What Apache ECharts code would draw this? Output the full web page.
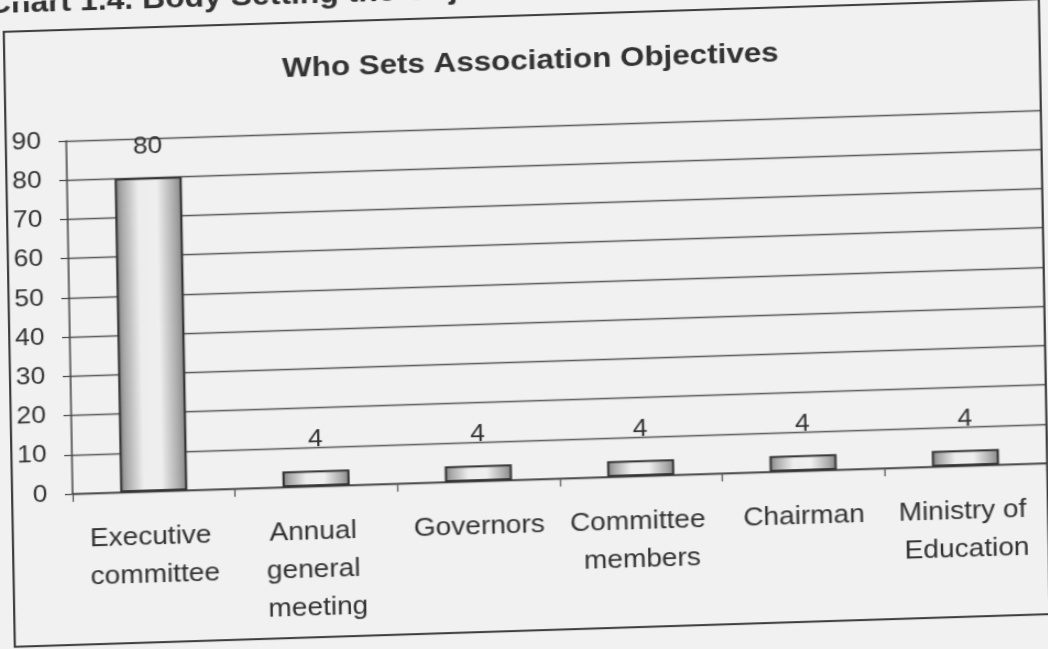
<!DOCTYPE html>
<html>
<head>
<meta charset="utf-8">
<title>Who Sets Association Objectives</title>
<script src="https://cdn.jsdelivr.net/npm/echarts@6/dist/echarts.min.js"></script>
<style>
  html, body { margin: 0; padding: 0; background: #f1f1f1; overflow: hidden; width: 1048px; height: 649px; }
  /* The printed page sits slightly tilted and stretched, so the whole chart is drawn on a sheared layer */
  #chart {
    position: absolute; left: 0; top: 0;
    width: 960px; height: 700px;
    transform-origin: 0 0;
    transform: matrix(1.1, -0.0347, 0.018, 1, -8.91, 2.17);
  }
</style>
</head>
<body>
<div id="chart"></div>
<script>
// Chart data
const pageHeading = 'Chart 1.4. Body Setting the Objectives';
const chartTitle = 'Who Sets Association Objectives';
const categories = [
  'Executive committee',
  'Annual general meeting',
  'Governors',
  'Committee members',
  'Chairman',
  'Ministry of Education'
];
const percentages = [80, 4, 4, 4, 4, 4];
const yMin = 0;
const yMax = 90;
const yStep = 10;

const FONT = '"Liberation Sans", Arial, sans-serif';
const INK = '#323232';

const chart = echarts.init(document.getElementById('chart'), null, { renderer: 'canvas' });

// bar fill: shaded edges, pale centre
const barFill = new echarts.graphic.LinearGradient(0, 0, 1, 0, [
  { offset: 0, color: '#7e7e7e' },
  { offset: 0.1, color: '#a9a9a9' },
  { offset: 0.35, color: '#ededed' },
  { offset: 0.62, color: '#efefef' },
  { offset: 0.88, color: '#ababab' },
  { offset: 1, color: '#858585' }
]);

chart.setOption({
  backgroundColor: '#f1f1f1',
  animation: false,
  title: [{
    text: chartTitle,
    left: 484,
    top: 57,
    textAlign: 'center',
    textStyle: { fontFamily: FONT, fontSize: 28.5, fontWeight: 'bold', color: INK }
  }],
  graphic: [
    {
      type: 'text',
      x: -3,
      y: 17,
      style: {
        text: pageHeading,
        font: 'bold 29px ' + FONT,
        fill: INK,
        textAlign: 'left',
        textVerticalAlign: 'bottom'
      }
    },
    {
      type: 'rect',
      shape: { x: 11, y: 30, width: 941, height: 615 },
      style: { fill: 'none', stroke: '#3a3a3a', lineWidth: 2 },
      z: 10
    }
  ],
  grid: {
    left: 66,
    right: 960 - 951.6,
    top: 141,
    bottom: 700 - 494,
    containLabel: false
  },
  xAxis: {
    type: 'category',
    data: categories,
    boundaryGap: true,
    axisLine: { lineStyle: { color: '#444', width: 1.5 } },
    axisTick: { show: true, length: 8, inside: false, lineStyle: { color: '#555', width: 1.2 } },
    axisLabel: {
      interval: 0,
      margin: 27,
      color: INK,
      fontFamily: FONT,
      fontSize: 25.5,
      lineHeight: 38,
      width: 140,
      overflow: 'break',
      align: 'center'
    },
    splitLine: { show: false }
  },
  yAxis: {
    type: 'value',
    min: yMin,
    max: yMax,
    interval: yStep,
    axisLine: { show: true, lineStyle: { color: '#444', width: 1.5 } },
    axisTick: { show: true, length: 7, inside: false, lineStyle: { color: '#444', width: 1.2 } },
    axisLabel: {
      margin: 23,
      color: INK,
      fontFamily: FONT,
      fontSize: 24
    },
    splitLine: { show: true, lineStyle: { color: '#555', width: 1.3 } }
  },
  series: [{
    type: 'bar',
    data: percentages,
    barWidth: 61,
    itemStyle: {
      color: barFill,
      borderColor: '#333',
      borderWidth: 2
    },
    label: {
      show: true,
      position: 'top',
      distance: 19,
      color: INK,
      fontFamily: FONT,
      fontSize: 24
    }
  }]
});
</script>
</body>
</html>
